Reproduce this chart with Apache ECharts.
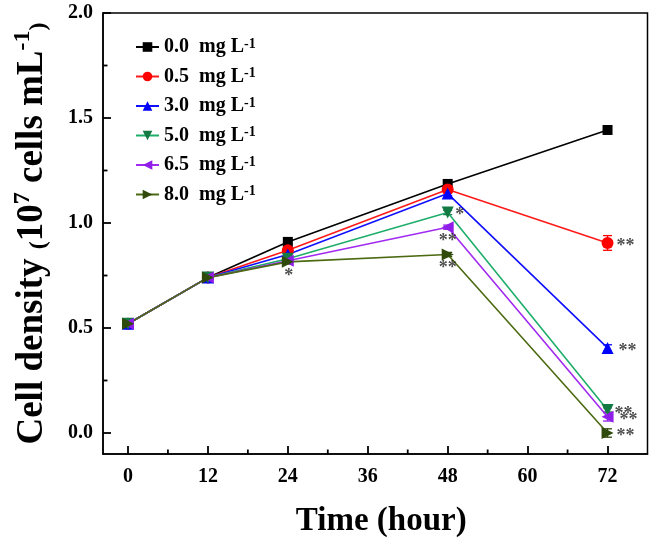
<!DOCTYPE html>
<html>
<head>
<meta charset="utf-8">
<script src="https://cdn.jsdelivr.net/npm/echarts@6/dist/echarts.min.js"></script>
<style>
html,body{margin:0;padding:0;background:#fff;}
#chart{width:653px;height:541px;}
</style>
</head>
<body>
<div id="chart"></div>
<script>
// ---- data ----
const hours = [0, 12, 24, 48, 72];
const concLabels = ['0.0', '0.5', '3.0', '5.0', '6.5', '8.0'];
const d00 = [0.52, 0.74, 0.91, 1.186, 1.443];
const d05 = [0.52, 0.74, 0.87, 1.16, 0.905];
const d30 = [0.52, 0.74, 0.85, 1.14, 0.405];
const d50 = [0.52, 0.74, 0.83, 1.05, 0.11];
const d65 = [0.52, 0.74, 0.82, 0.98, 0.077];
const d80 = [0.52, 0.74, 0.815, 0.85, 0.0];
const e00 = [0.01, 0.01, 0.01, 0.01, 0.01];
const e05 = [0.01, 0.01, 0.01, 0.01, 0.035];
const e30 = [0.01, 0.01, 0.01, 0.01, 0.015];
const e50 = [0.01, 0.01, 0.01, 0.01, 0.01];
const e65 = [0.01, 0.01, 0.01, 0.01, 0.02];
const e80 = [0.01, 0.01, 0.01, 0.01, 0.02];
const xTicks = [0, 12, 24, 36, 48, 60, 72];
const xMinorTicks = [6, 18, 30, 42, 54, 66];
const yTicks = [0, 0.5, 1.0, 1.5, 2.0];
const yMinorTicks = [0.25, 0.75, 1.25, 1.75];
const xMin = -3.75, xMax = 78, yMin = -0.1, yMax = 2.0;
// significance marks: series index, hour, text
const starSeries = [5, 3, 4, 5, 1, 2, 3, 4, 5];
const starHours = [24, 48, 48, 48, 72, 72, 72, 72, 72];
const starText = ['*', '*', '**', '**', '**', '**', '**', '**', '**'];

// ---- styles ----
const allData = [d00, d05, d30, d50, d65, d80];
const allErr = [e00, e05, e30, e50, e65, e80];
const lineColors = ['#000000', '#ff1a1a', '#1010ff', '#1fae6a', '#a12af0', '#4b6a12'];
const markColors = ['#000000', '#ff0000', '#0000ff', '#137a44', '#8f1ee8', '#2f4a0a'];
const symbols = ['rect', 'circle', 'triangle', 'triangle', 'triangle', 'triangle'];
const symRot = [0, 0, 0, 180, 90, -90];
const symSize = [10, 12, 12, 12, 12, 12];
const starOffsets = [[1, 14], [12, 3], [0, 14], [0, 14], [18, 3], [20, 3], [16, 4], [21, 4], [18, 3]];
const majorLen = 8, minorLen = 4.5;

const serif = 'Liberation Serif';

const series = [];
// error bars (drawn beneath)
allData.forEach((d, si) => {
  series.push({
    type: 'custom',
    xAxisIndex: 0, yAxisIndex: 0,
    silent: true,
    z: 1,
    data: hours.map((h, i) => [h, d[i], allErr[si][i]]),
    renderItem: function (params, api) {
      const x = api.value(0), y = api.value(1), e = api.value(2);
      const top = api.coord([x, y + e]);
      const bot = api.coord([x, y - e]);
      const hw = 4.5;
      const st = { stroke: markColors[si], lineWidth: 1.3 };
      return {
        type: 'group',
        children: [
          { type: 'line', shape: { x1: top[0], y1: top[1], x2: bot[0], y2: bot[1] }, style: st },
          { type: 'line', shape: { x1: top[0] - hw, y1: top[1], x2: top[0] + hw, y2: top[1] }, style: st },
          { type: 'line', shape: { x1: bot[0] - hw, y1: bot[1], x2: bot[0] + hw, y2: bot[1] }, style: st }
        ]
      };
    }
  });
});
allData.forEach((d, si) => {
  series.push({
    name: concLabels[si],
    type: 'line',
    xAxisIndex: 0, yAxisIndex: 0,
    z: 2,
    data: hours.map((h, i) => [h, d[i]]),
    symbol: symbols[si],
    symbolRotate: symRot[si],
    symbolSize: symSize[si],
    showAllSymbol: true,
    itemStyle: { color: markColors[si], borderWidth: 0 },
    lineStyle: { color: lineColors[si], width: 1.6 },
    emphasis: { disabled: true },
    animation: false
  });
});
series.push({
  type: 'scatter',
  xAxisIndex: 0, yAxisIndex: 0,
  symbolSize: 0,
  z: 5,
  silent: true,
  data: starSeries.map((s, k) => ({
    value: [starHours[k], allData[s][hours.indexOf(starHours[k])]],
    label: { show: true, formatter: starText[k], offset: starOffsets[k] }
  })),
  label: {
    show: true, position: 'inside',
    color: '#222', fontFamily: serif, fontWeight: 'bold', fontSize: 18
  },
  animation: false
});

const axisLine = { show: true, onZero: false, lineStyle: { color: '#000', width: 1.5 } };
const tickLine = { color: '#000', width: 1.8 };
const chart = echarts.init(document.getElementById('chart'), null, { renderer: 'canvas' });
chart.setOption({
  backgroundColor: '#fff',
  animation: false,
  grid: {
    left: 103, right: 5.5, top: 13, bottom: 87,
    show: true, borderColor: '#000', borderWidth: 1.5,
    containLabel: false, outerBoundsMode: 'none'
  },
  legend: {
    data: concLabels,
    orient: 'vertical',
    left: 135, top: 37,
    padding: 0,
    itemWidth: 23, itemHeight: 12,
    itemGap: 9.5,
    formatter: (n) => '{n|' + n + '  mg L}{s|-1}',
    textStyle: {
      rich: {
        n: { fontFamily: serif, fontWeight: 'bold', fontSize: 20, color: '#000', lineHeight: 20, verticalAlign: 'bottom' },
        s: { fontFamily: serif, fontWeight: 'bold', fontSize: 14, color: '#000', verticalAlign: 'top' }
      }
    },
    selectedMode: false
  },
  xAxis: {
    type: 'value', min: xMin, max: xMax,
    axisLine: axisLine,
    axisTick: { show: true, inside: true, length: majorLen, customValues: xTicks, lineStyle: tickLine },
    axisLabel: { show: true, customValues: xTicks, margin: 13, fontFamily: serif, fontWeight: 'bold', fontSize: 20, color: '#000' },
    splitLine: { show: false },
    name: 'Time (hour)',
    nameLocation: 'middle',
    nameGap: 51,
    nameTextStyle: { fontFamily: serif, fontWeight: 'bold', fontSize: 33, color: '#000', padding: [0, 0, 0, 12] }
  },
  yAxis: {
    type: 'value', min: yMin, max: yMax,
    axisLine: axisLine,
    axisTick: { show: true, inside: true, length: majorLen, customValues: yTicks, lineStyle: tickLine },
    axisLabel: { show: true, customValues: yTicks, margin: 10, fontFamily: serif, fontWeight: 'bold', fontSize: 20, color: '#000',
      formatter: (v) => v.toFixed(1) },
    splitLine: { show: false },
    name: '{a|Cell density }{p|(}{a|10}{s|7}{a| cells mL}{s|-1}{p|)}',
    nameLocation: 'middle',
    nameRotate: 90,
    nameGap: 52,
    nameTextStyle: {
      rich: {
        a: { fontFamily: serif, fontWeight: 'bold', fontSize: 37, color: '#000', verticalAlign: 'bottom', lineHeight: 40 },
        p: { fontFamily: serif, fontWeight: 'bold', fontSize: 24, color: '#000', verticalAlign: 'bottom' },
        s: { fontFamily: serif, fontWeight: 'bold', fontSize: 24, color: '#000', verticalAlign: 'top' }
      }
    }
  },
  series: series
});

// inward minor ticks, positioned through the chart's own scales
const tickEls = [];
const tickStyle = { stroke: '#000', lineWidth: 1.8 };
function addX(vals, len) {
  vals.forEach(v => {
    const p = chart.convertToPixel({ gridIndex: 0 }, [v, yMin]);
    tickEls.push({ type: 'line', z: 100, silent: true, shape: { x1: p[0], y1: p[1], x2: p[0], y2: p[1] - len }, style: tickStyle });
  });
}
function addY(vals, len) {
  vals.forEach(v => {
    const p = chart.convertToPixel({ gridIndex: 0 }, [xMin, v]);
    tickEls.push({ type: 'line', z: 100, silent: true, shape: { x1: p[0], y1: p[1], x2: p[0] + len, y2: p[1] }, style: tickStyle });
  });
}
addX(xMinorTicks, minorLen);
addY(yMinorTicks, minorLen);
chart.setOption({ graphic: { elements: tickEls } });
</script>
</body>
</html>
